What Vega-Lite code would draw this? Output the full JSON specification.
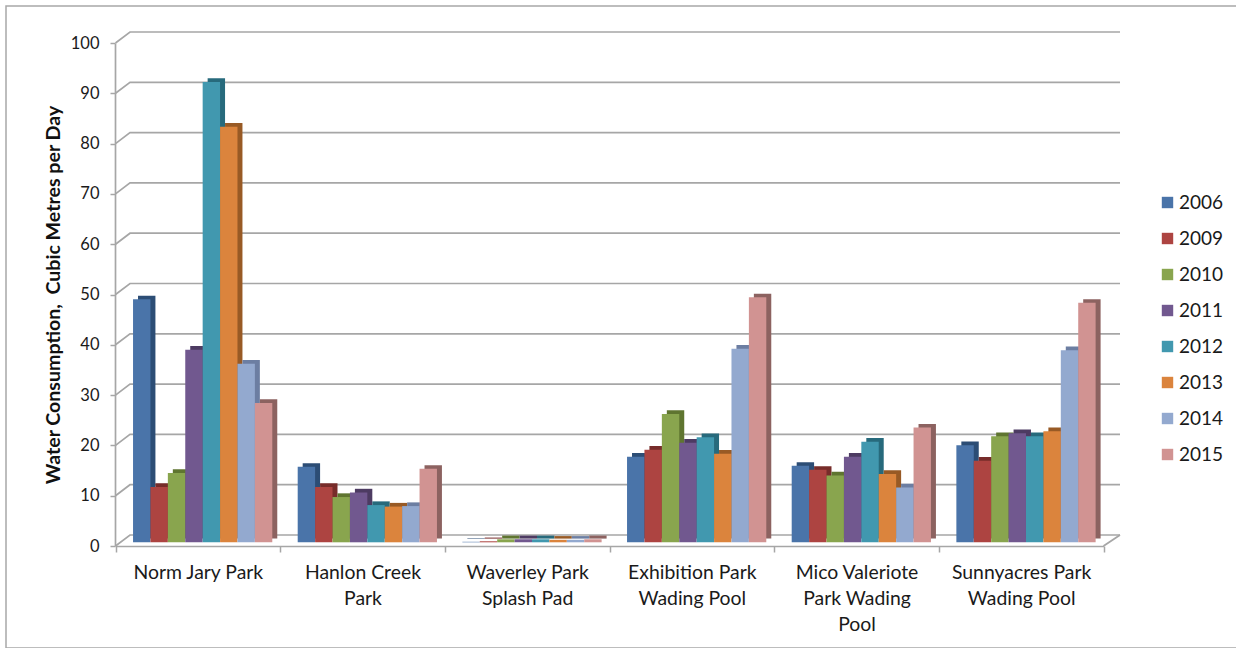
{
"$schema":"https://vega.github.io/schema/vega-lite/v6.json",
"width":1232,"height":642,
"autosize":{"type":"none"},
"padding":{"left":6,"top":6,"right":0,"bottom":0},
"background":"white",
"view":{"stroke":"#a8a8a8","strokeWidth":1.5,"fill":"white"},
"config":{"font":"Lato"},
"datasets":{
"walls":[{"level":0},{"level":10},{"level":20},{"level":30},{"level":40},{"level":50},{"level":60},{"level":70},{"level":80},{"level":90},{"level":100}],
"floor":[{"level":0}],
"bars":[
{"park":"Norm Jary Park","year":"2006","use":48.3},{"park":"Norm Jary Park","year":"2009","use":11},{"park":"Norm Jary Park","year":"2010","use":13.8},{"park":"Norm Jary Park","year":"2011","use":38.3},{"park":"Norm Jary Park","year":"2012","use":91.5},{"park":"Norm Jary Park","year":"2013","use":82.6},{"park":"Norm Jary Park","year":"2014","use":35.5},{"park":"Norm Jary Park","year":"2015","use":27.7},
{"park":"Hanlon Creek Park","year":"2006","use":15},{"park":"Hanlon Creek Park","year":"2009","use":11},{"park":"Hanlon Creek Park","year":"2010","use":9},{"park":"Hanlon Creek Park","year":"2011","use":9.9},{"park":"Hanlon Creek Park","year":"2012","use":7.4},{"park":"Hanlon Creek Park","year":"2013","use":7.1},{"park":"Hanlon Creek Park","year":"2014","use":7.2},{"park":"Hanlon Creek Park","year":"2015","use":14.6},
{"park":"Waverley Park Splash Pad","year":"2006","use":0.1},{"park":"Waverley Park Splash Pad","year":"2009","use":0.2},{"park":"Waverley Park Splash Pad","year":"2010","use":0.6},{"park":"Waverley Park Splash Pad","year":"2011","use":0.6},{"park":"Waverley Park Splash Pad","year":"2012","use":0.6},{"park":"Waverley Park Splash Pad","year":"2013","use":0.5},{"park":"Waverley Park Splash Pad","year":"2014","use":0.5},{"park":"Waverley Park Splash Pad","year":"2015","use":0.6},
{"park":"Exhibition Park Wading Pool","year":"2006","use":17},{"park":"Exhibition Park Wading Pool","year":"2009","use":18.4},{"park":"Exhibition Park Wading Pool","year":"2010","use":25.5},{"park":"Exhibition Park Wading Pool","year":"2011","use":19.8},{"park":"Exhibition Park Wading Pool","year":"2012","use":20.9},{"park":"Exhibition Park Wading Pool","year":"2013","use":17.6},{"park":"Exhibition Park Wading Pool","year":"2014","use":38.5},{"park":"Exhibition Park Wading Pool","year":"2015","use":48.7},
{"park":"Mico Valeriote Park Wading Pool","year":"2006","use":15.2},{"park":"Mico Valeriote Park Wading Pool","year":"2009","use":14.4},{"park":"Mico Valeriote Park Wading Pool","year":"2010","use":13.3},{"park":"Mico Valeriote Park Wading Pool","year":"2011","use":17},{"park":"Mico Valeriote Park Wading Pool","year":"2012","use":20},{"park":"Mico Valeriote Park Wading Pool","year":"2013","use":13.6},{"park":"Mico Valeriote Park Wading Pool","year":"2014","use":10.9},{"park":"Mico Valeriote Park Wading Pool","year":"2015","use":22.8},
{"park":"Sunnyacres Park Wading Pool","year":"2006","use":19.3},{"park":"Sunnyacres Park Wading Pool","year":"2009","use":16.2},{"park":"Sunnyacres Park Wading Pool","year":"2010","use":21.1},{"park":"Sunnyacres Park Wading Pool","year":"2011","use":21.7},{"park":"Sunnyacres Park Wading Pool","year":"2012","use":21.1},{"park":"Sunnyacres Park Wading Pool","year":"2013","use":22.1},{"park":"Sunnyacres Park Wading Pool","year":"2014","use":38.2},{"park":"Sunnyacres Park Wading Pool","year":"2015","use":47.6}
]},
"resolve":{"scale":{"color":"independent","xOffset":"independent"}},
"layer":[
{"data":{"name":"walls"},
 "mark":{"type":"point","shape":"M0,0L14.5,-11L1004.5,-11","size":4,"filled":false,"stroke":"#a6a6a6","strokeWidth":1.7,"opacity":1},
 "encoding":{
  "x":{"datum":"Norm Jary Park","type":"nominal","bandPosition":0,"scale":{"domain":["Norm Jary Park","Hanlon Creek Park","Waverley Park Splash Pad","Exhibition Park Wading Pool","Mico Valeriote Park Wading Pool","Sunnyacres Park Wading Pool"],"range":[109.5,1097.5],"paddingInner":0,"paddingOuter":0},
   "axis":{"title":null,"orient":"bottom","offset":-102,"tickBand":"extent","labelAngle":0,"labelFont":"Lato","labelFontSize":19.4,"labelColor":"#1a1a1a","labelPadding":11,"labelLineHeight":26,"labelBaseline":"top","tickSize":6,"tickColor":"#a6a6a6","tickWidth":1.5,"domainColor":"#a6a6a6","domainWidth":1.7,"labelOverlap":false,"labelFlush":false,
   "labelExpr":"{'Norm Jary Park':['Norm Jary Park'],'Hanlon Creek Park':['Hanlon Creek','Park'],'Waverley Park Splash Pad':['Waverley Park','Splash Pad'],'Exhibition Park Wading Pool':['Exhibition Park','Wading Pool'],'Mico Valeriote Park Wading Pool':['Mico Valeriote','Park Wading','Pool'],'Sunnyacres Park Wading Pool':['Sunnyacres Park','Wading Pool']}[datum.label]"}},
  "y":{"field":"level","type":"quantitative","scale":{"domain":[0,100],"range":[540,37],"nice":false},
   "axis":{"title":"Water Consumption,\u00a0 Cubic Metres per Day","orient":"left","offset":-109,"values":[0,10,20,30,40,50,60,70,80,90,100],"grid":false,"labelFont":"Lato","labelFontSize":16.5,"labelColor":"#1a1a1a","labelPadding":11,"tickSize":5,"tickColor":"#a6a6a6","tickWidth":1.5,"domainColor":"#a6a6a6","domainWidth":1.7,"titleFont":"Lato","titleFontWeight":"bold","titleFontSize":19.6,"titleColor":"#111111","titlePadding":7}}}},
{"data":{"name":"floor"},
 "mark":{"type":"point","shape":"M1004.5,-11L988,0","size":4,"filled":false,"stroke":"#a6a6a6","strokeWidth":1.7,"opacity":1},
 "encoding":{
  "x":{"datum":"Norm Jary Park","type":"nominal","bandPosition":0},
  "y":{"field":"level","type":"quantitative"}}},
{"data":{"name":"bars"},
 "mark":{"type":"bar","yOffset":-7.4},
 "encoding":{
  "x":{"field":"park","type":"nominal","sort":null},
  "xOffset":{"field":"year","type":"nominal","scale":{"paddingInner":0,"paddingOuter":0.73,"align":0.886}},
  "y":{"field":"use","type":"quantitative"},
  "color":{"field":"year","type":"nominal","legend":null,"scale":{"range":["#2c4d75","#772c2a","#5f7530","#4d3b62","#276a7c","#985a25","#6c7ea2","#8c6260"]}}}},
{"data":{"name":"bars"},
 "mark":{"type":"bar","yOffset":-3.7},
 "encoding":{
  "x":{"field":"park","type":"nominal","sort":null},
  "xOffset":{"field":"year","type":"nominal","scale":{"paddingInner":0,"paddingOuter":0.73,"align":0.69}},
  "y":{"field":"use","type":"quantitative"},
  "color":{"field":"year","type":"nominal","scale":{"range":["#4a74a9","#ad4441","#89a54e","#71588f","#4198af","#db843d","#93a9cf","#d19392"]},
   "legend":{"orient":"none","legendX":1152,"legendY":187,"title":null,"symbolType":"square","symbolSize":130,"symbolStrokeWidth":0,"labelFont":"Lato","labelFontSize":19,"labelColor":"#1a1a1a","rowPadding":16,"labelOffset":2}}}}
]}
